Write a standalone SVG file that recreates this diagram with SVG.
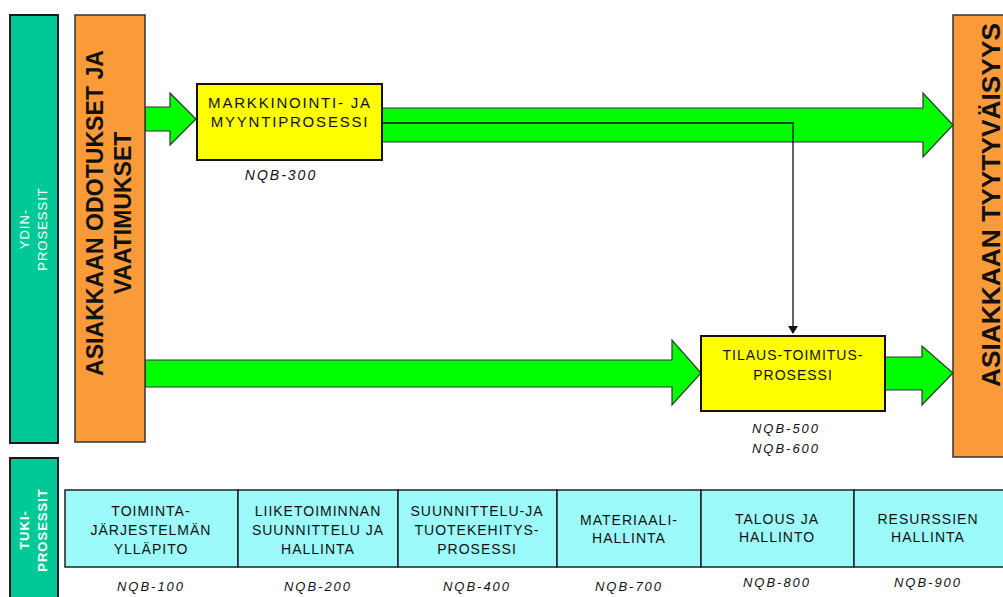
<svg xmlns="http://www.w3.org/2000/svg" width="1003" height="597" viewBox="0 0 1003 597">
  <defs>
    <style>
      .lane { fill: #00c896; stroke: #1a1a1a; stroke-width: 2; }
      .cust { fill: #fa9a38; stroke: #333; stroke-width: 1.5; }
      .proc { fill: #ffff00; stroke: #111; stroke-width: 2; }
      .supp { fill: #9cfafa; stroke: #222; stroke-width: 1.5; }
      .flow { fill: #00ff00; stroke: #333; stroke-width: 1.2; }
      .conn { fill: none; stroke: #111; stroke-width: 1.3; }
      .big { font-family: "Liberation Sans", Arial, sans-serif; font-weight: bold; font-size: 23px; fill: #111; text-anchor: middle; }
      .lbl { font-family: "Liberation Sans", Arial, sans-serif; font-size: 14px; fill: #111; text-anchor: middle; letter-spacing: 1px; }
      .lbl-lg { font-size: 15px; letter-spacing: 1.8px; }
      .lane-t { font-family: "Liberation Sans", Arial, sans-serif; font-size: 13px; fill: #ffffff; text-anchor: middle; letter-spacing: 1px; }
      .code { font-family: "Liberation Sans", Arial, sans-serif; font-style: italic; font-size: 13px; fill: #111; text-anchor: middle; letter-spacing: 2px; }
    </style>
    <marker id="tip" markerWidth="8" markerHeight="10" refX="7" refY="5" orient="auto" markerUnits="userSpaceOnUse">
      <path d="M0,0 L8,5 L0,10 Z" fill="#111"/>
    </marker>
  </defs>

  <rect width="1003" height="597" fill="#ffffff"/>

  <!-- swimlane headers -->
  <g id="lane-core">
    <rect class="lane" x="10" y="15" width="48" height="428"/>
    <text class="lane-t" transform="translate(29,229) rotate(-90)">YDIN-</text>
    <text class="lane-t" transform="translate(47,229) rotate(-90)">PROSESSIT</text>
  </g>
  <g id="lane-support">
    <rect class="lane" x="10" y="458" width="48" height="145"/>
    <text class="lane-t" style="font-weight:bold" transform="translate(29,530) rotate(-90)">TUKI-</text>
    <text class="lane-t" style="font-weight:bold" transform="translate(47,530) rotate(-90)">PROSESSIT</text>
  </g>

  <!-- flows -->
  <g id="connectors">
    <path class="flow" d="M145,107 H170 V93 L196,119 L170,145 V131 H145 Z"/>
    <path class="flow" d="M382,108 H923 V93 L953,125 L923,157 V142 H382 Z"/>
    <path class="flow" d="M145,360 H672 V340 L701,373 L672,405 V387 H145 Z"/>
    <path class="flow" d="M885,357 H922 V346 L953,373 L922,405 V390 H885 Z"/>
    <path class="conn" d="M382,123 H793 V333" marker-end="url(#tip)"/>
  </g>

  <g id="customer-needs">
    <rect class="cust" x="75" y="15" width="70" height="427"/>
    <text class="big" transform="translate(103,213) rotate(-90)" textLength="326" lengthAdjust="spacingAndGlyphs">ASIAKKAAN ODOTUKSET JA</text>
    <text class="big" transform="translate(131,213) rotate(-90)">VAATIMUKSET</text>
  </g>

  <g id="customer-satisfaction">
    <rect class="cust" x="953" y="15" width="60" height="442"/>
    <text class="big" style="font-size:25px" transform="translate(1000,205) rotate(-90)" textLength="364" lengthAdjust="spacingAndGlyphs">ASIAKKAAN TYYTYVÄISYYS</text>
  </g>

  <g id="sales">
    <rect class="proc" x="197" y="84" width="185" height="76"/>
    <text class="lbl lbl-lg" x="290" y="108">MARKKINOINTI- JA</text>
    <text class="lbl lbl-lg" x="290" y="127">MYYNTIPROSESSI</text>
    <text class="code" style="font-size:14px" x="281" y="180">NQB-300</text>
  </g>

  <g id="order-delivery">
    <rect class="proc" x="701" y="336" width="184" height="75"/>
    <text class="lbl" x="793" y="360">TILAUS-TOIMITUS-</text>
    <text class="lbl" x="793" y="380">PROSESSI</text>
    <text class="code" x="786" y="433">NQB-500</text>
    <text class="code" x="786" y="453">NQB-600</text>
  </g>

  <!-- support processes -->
  <g id="support-quality">
    <rect class="supp" x="65" y="490" width="173" height="77"/>
    <text class="lbl" x="151" y="516">TOIMINTA-</text>
    <text class="lbl" x="151" y="535">JÄRJESTELMÄN</text>
    <text class="lbl" x="151" y="554">YLLÄPITO</text>
    <text class="code" x="151" y="591">NQB-100</text>
  </g>
  <g id="support-planning">
    <rect class="supp" x="238" y="490" width="160" height="77"/>
    <text class="lbl" x="318" y="516">LIIKETOIMINNAN</text>
    <text class="lbl" x="318" y="535">SUUNNITTELU JA</text>
    <text class="lbl" x="318" y="554">HALLINTA</text>
    <text class="code" x="318" y="591">NQB-200</text>
  </g>
  <g id="support-rd">
    <rect class="supp" x="398" y="490" width="159" height="77"/>
    <text class="lbl" x="477" y="516">SUUNNITTELU-JA</text>
    <text class="lbl" x="477" y="535">TUOTEKEHITYS-</text>
    <text class="lbl" x="477" y="554">PROSESSI</text>
    <text class="code" x="477" y="591">NQB-400</text>
  </g>
  <g id="support-materials">
    <rect class="supp" x="557" y="490" width="144" height="77"/>
    <text class="lbl" x="629" y="525">MATERIAALI-</text>
    <text class="lbl" x="629" y="543">HALLINTA</text>
    <text class="code" x="629" y="591">NQB-700</text>
  </g>
  <g id="support-finance">
    <rect class="supp" x="701" y="490" width="153" height="77"/>
    <text class="lbl" x="777" y="524">TALOUS JA</text>
    <text class="lbl" x="777" y="542">HALLINTO</text>
    <text class="code" x="777" y="587">NQB-800</text>
  </g>
  <g id="support-resources">
    <rect class="supp" x="854" y="490" width="160" height="77"/>
    <text class="lbl" x="928" y="524">RESURSSIEN</text>
    <text class="lbl" x="928" y="542">HALLINTA</text>
    <text class="code" x="928" y="587">NQB-900</text>
  </g>
</svg>
